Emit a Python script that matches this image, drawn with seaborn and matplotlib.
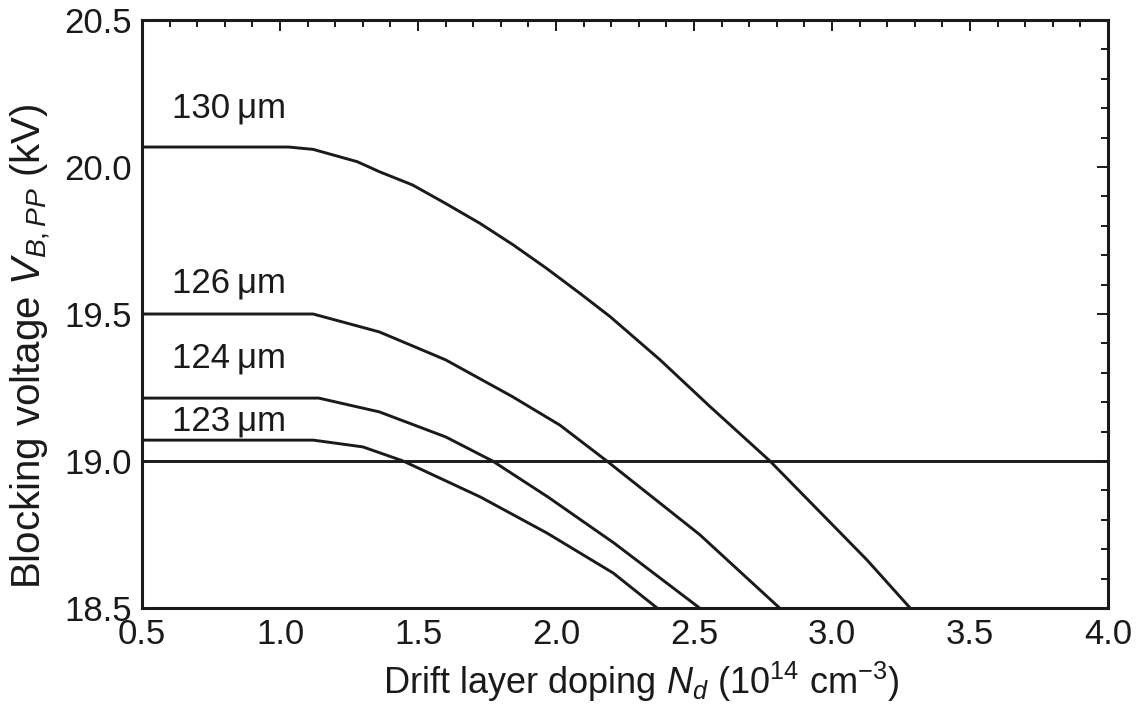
import matplotlib
matplotlib.use("Agg")
import matplotlib.pyplot as plt
from matplotlib.ticker import MultipleLocator, FormatStrFormatter
import pandas as pd
import seaborn as sns

# Blocking voltage vs. drift layer doping for several drift layer thicknesses
thick_labels = ["130\u2009\u03bcm", "126\u2009\u03bcm", "124\u2009\u03bcm", "123\u2009\u03bcm"]

nd_130 = [0.5, 1.03, 1.12, 1.28, 1.36, 1.48, 1.60, 1.725, 1.845, 1.966, 2.087,
          2.196, 2.377, 2.558, 2.775, 3.127, 3.283]
vb_130 = [20.068, 20.068, 20.060, 20.018, 19.984, 19.939, 19.876, 19.808, 19.735,
          19.655, 19.570, 19.491, 19.344, 19.185, 19.0, 18.663, 18.5]

nd_126 = [0.5, 1.12, 1.36, 1.60, 1.84, 2.014, 2.184, 2.52, 2.81]
vb_126 = [19.50, 19.50, 19.439, 19.344, 19.22, 19.122, 19.0, 18.75, 18.5]

nd_124 = [0.5, 1.14, 1.36, 1.60, 1.77, 1.97, 2.21, 2.52]
vb_124 = [19.214, 19.214, 19.167, 19.082, 19.0, 18.878, 18.721, 18.5]

nd_123 = [0.5, 1.12, 1.30, 1.446, 1.725, 1.967, 2.207, 2.366]
vb_123 = [19.071, 19.071, 19.048, 19.0, 18.878, 18.755, 18.619, 18.5]

target_voltage = 19.0

# label anchor positions (left edge, vertical centre) in data units
label_x = [0.61, 0.61, 0.61, 0.61]
label_y = [20.20, 19.605, 19.35, 19.135]

sns.set_style("white")
plt.rcParams["font.family"] = ["Liberation Sans", "DejaVu Sans"]
plt.rcParams["mathtext.fontset"] = "custom"
plt.rcParams["mathtext.rm"] = "Liberation Sans"
plt.rcParams["mathtext.it"] = "Liberation Sans:italic"
plt.rcParams["mathtext.sf"] = "Liberation Sans"

ink = "#1a1a1a"

frames = []
for lab, xs, ys in zip(thick_labels,
                       [nd_130, nd_126, nd_124, nd_123],
                       [vb_130, vb_126, vb_124, vb_123]):
    frames.append(pd.DataFrame({"Nd": xs, "VB": ys, "thickness": lab}))
df = pd.concat(frames, ignore_index=True)

fig = plt.figure(figsize=(11.41, 7.05), dpi=100)
ax = fig.add_axes([0.1245, 0.1376, 0.8466, 0.834])

sns.lineplot(data=df, x="Nd", y="VB", hue="thickness", sort=False,
             palette=[ink] * 4, linewidth=2.1, legend=False, ax=ax,
             estimator=None)
for ln in ax.get_lines():
    ln.set_solid_joinstyle("round")
ax.axhline(target_voltage, color=ink, linewidth=2.1)

for lab, lx, ly in zip(thick_labels, label_x, label_y):
    ax.text(lx, ly, lab, fontsize=25, color=ink, ha="left", va="center")

ax.set_xlim(0.5, 4.0)
ax.set_ylim(18.5, 20.5)
ax.xaxis.set_major_locator(MultipleLocator(0.5))
ax.xaxis.set_minor_locator(MultipleLocator(0.1))
ax.yaxis.set_major_locator(MultipleLocator(0.5))
ax.yaxis.set_minor_locator(MultipleLocator(0.1))
ax.xaxis.set_major_formatter(FormatStrFormatter("%.1f"))
ax.yaxis.set_major_formatter(FormatStrFormatter("%.1f"))

ax.tick_params(which="both", direction="in", top=True, right=True,
               color=ink, width=1.4)
ax.tick_params(which="major", length=8, labelsize=25, pad=7, labelcolor=ink)
ax.tick_params(which="minor", length=5)

for sp in ax.spines.values():
    sp.set_linewidth(2.2)
    sp.set_color(ink)

ax.set_xlabel(r"Drift layer doping $N_d$ (10$^{14}$ cm$^{-3}$)", fontsize=26,
              color=ink)
ax.set_ylabel(r"Blocking voltage $V_{B,PP}$ (kV)", fontsize=29, color=ink)
ax.xaxis.set_label_coords(0.5166, -0.088)
ax.yaxis.set_label_coords(-0.092, 0.446)

fig.savefig("out.png", dpi=100)
